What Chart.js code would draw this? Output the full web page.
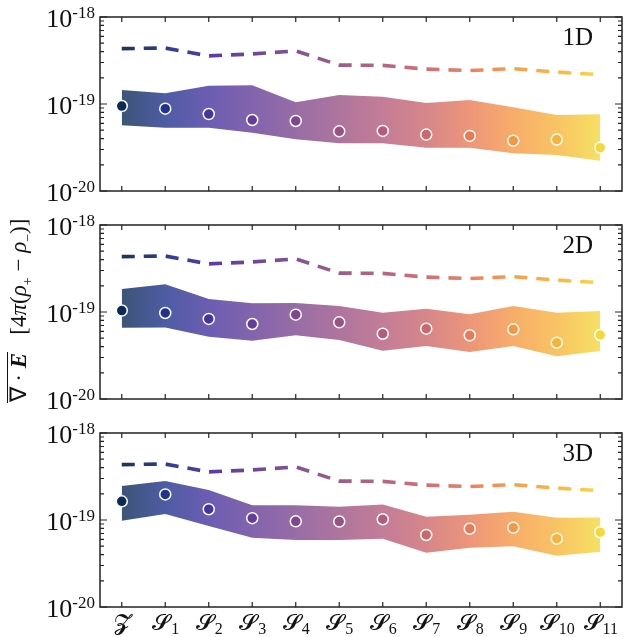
<!DOCTYPE html>
<html>
<head>
<meta charset="utf-8">
<script src="https://cdn.jsdelivr.net/npm/chart.js@4.4.1/dist/chart.umd.min.js"></script>
<style>
  html, body { margin: 0; padding: 0; background: #fff; }
  #wrap { position: relative; width: 630px; height: 637px; overflow: hidden; }
  #wrap canvas { position: absolute; left: 0; top: 0; }
  #ylab {
    position: absolute; left: -131px; top: 296px; width: 300px; height: 30px;
    line-height: 30px; text-align: center; white-space: nowrap;
    transform: rotate(-90deg);
    font-family: 'Liberation Serif', serif; font-size: 23px; color: #111;
  }
  #ylab .ov { border-top: 1.5px solid #111; line-height: 22px; display: inline-block; padding: 0 1px; }
  #ylab sub { font-size: 14px; }
</style>
</head>
<body>
<div id="wrap">
  <canvas id="p1" width="630" height="637"></canvas>
  <canvas id="p2" width="630" height="637"></canvas>
  <canvas id="p3" width="630" height="637"></canvas>
  <div id="ylab"><span class="ov">∇ · <b><i>E</i></b></span>&nbsp;&nbsp; [4<i>π</i>(<i>ρ</i><sub>+</sub> − <i>ρ</i><sub>−</sub>)]</div>
</div>
<script>
// categories and tick labels
const categories = ['Z', 'S1', 'S2', 'S3', 'S4', 'S5', 'S6', 'S7', 'S8', 'S9', 'S10', 'S11'];
const xLetters = ['𝓩', '𝓢', '𝓢', '𝓢', '𝓢', '𝓢', '𝓢', '𝓢', '𝓢', '𝓢', '𝓢', '𝓢'];
const xSubs = ['', '1', '2', '3', '4', '5', '6', '7', '8', '9', '10', '11'];
const yTicks = [1e-18, 1e-19, 1e-20];
const yTickExp = ['-18', '-19', '-20'];
const panelNames = ['1D', '2D', '3D'];

// dashed reference line (same in every panel)
const refLine = [4.33e-19, 4.4e-19, 3.57e-19, 3.76e-19, 4.07e-19, 2.8e-19, 2.78e-19, 2.52e-19, 2.42e-19, 2.55e-19, 2.33e-19, 2.17e-19];

// 1D
const mean1 = [9.48e-20, 8.83e-20, 7.67e-20, 6.55e-20, 6.38e-20, 4.85e-20, 4.9e-20, 4.45e-20, 4.3e-20, 3.79e-20, 3.9e-20, 3.15e-20];
const upper1 = [1.45e-19, 1.33e-19, 1.62e-19, 1.64e-19, 1.05e-19, 1.27e-19, 1.21e-19, 1.03e-19, 1.11e-19, 9.16e-20, 7.48e-20, 7.6e-20];
const lower1 = [5.69e-20, 5.35e-20, 5.35e-20, 4.68e-20, 3.93e-20, 3.53e-20, 3.53e-20, 3.15e-20, 3.15e-20, 2.71e-20, 2.6e-20, 2.23e-20];

// 2D
const mean2 = [1.04e-19, 9.75e-20, 8.32e-20, 7.28e-20, 9.31e-20, 7.6e-20, 5.63e-20, 6.43e-20, 5.4e-20, 6.32e-20, 4.44e-20, 5.44e-20];
const upper2 = [1.84e-19, 2.08e-19, 1.41e-19, 1.26e-19, 1.27e-19, 1.17e-19, 9.82e-20, 1.09e-19, 9.4e-20, 1.17e-19, 9.82e-20, 1.03e-19];
const lower2 = [6.6e-20, 6.65e-20, 5.2e-20, 4.68e-20, 5.4e-20, 4.76e-20, 3.59e-20, 4.07e-20, 3.47e-20, 4.07e-20, 3.1e-20, 3.56e-20];

// 3D
const mean3 = [1.64e-19, 1.97e-19, 1.33e-19, 1.05e-19, 9.66e-20, 9.6e-20, 1.02e-19, 6.73e-20, 7.94e-20, 8.17e-20, 6.1e-20, 7.23e-20];
const upper3 = [2.46e-19, 2.8e-19, 2.21e-19, 1.48e-19, 1.48e-19, 1.42e-19, 1.51e-19, 1.09e-19, 1.15e-19, 1.24e-19, 1.06e-19, 1.07e-19];
const lower3 = [9.82e-20, 1.17e-19, 8.53e-20, 6.27e-20, 5.89e-20, 5.89e-20, 6.1e-20, 4.2e-20, 4.8e-20, 5.0e-20, 3.89e-20, 4.33e-20];

// colours along the x axis
const palette = ['#0c2a55', '#22338e', '#47359f', '#643d98', '#7e488f', '#9a5285',
                 '#b45c7c', '#cc686d', '#e87b57', '#f59844', '#f7b43d', '#f4d93c'];

function hexA(hex, a) {
  const n = parseInt(hex.slice(1), 16);
  return 'rgba(' + (n >> 16) + ',' + ((n >> 8) & 255) + ',' + (n & 255) + ',' + a + ')';
}

// horizontal gradient between first and last category
function grad(chart, alpha) {
  const area = chart.chartArea;
  if (!area) return palette[0];
  const x = chart.scales.x;
  const x0 = x.getPixelForValue(0), x1 = x.getPixelForValue(categories.length - 1);
  const g = chart.ctx.createLinearGradient(x0, 0, x1, 0);
  palette.forEach((c, i) => g.addColorStop(i / (palette.length - 1), hexA(c, alpha)));
  return g;
}

const SERIF = "'Liberation Serif', 'DejaVu Serif', serif";
const INK = '#222';

// frame, inward ticks, tick labels, panel name
const framePlugin = {
  id: 'frame',
  afterDraw(chart, args, opts) {
    const ctx = chart.ctx;
    const { left, right, top, bottom } = chart.chartArea;
    const xs = chart.scales.x, ys = chart.scales.y;
    ctx.save();
    ctx.strokeStyle = INK;
    ctx.lineWidth = 1.5;
    ctx.strokeRect(left, top, right - left, bottom - top);

    ctx.lineWidth = 1.2;
    ctx.beginPath();
    // x ticks, top and bottom
    categories.forEach((c, i) => {
      const px = xs.getPixelForValue(i);
      ctx.moveTo(px, bottom); ctx.lineTo(px, bottom - 5);
      ctx.moveTo(px, top); ctx.lineTo(px, top + 5);
    });
    // y major ticks
    yTicks.forEach(v => {
      const py = ys.getPixelForValue(v);
      ctx.moveTo(left, py); ctx.lineTo(left + 7, py);
      ctx.moveTo(right, py); ctx.lineTo(right - 7, py);
    });
    // y minor ticks
    [1e-20, 1e-19].forEach(dec => {
      for (let m = 2; m <= 9; m++) {
        const py = ys.getPixelForValue(m * dec);
        ctx.moveTo(left, py); ctx.lineTo(left + 4, py);
        ctx.moveTo(right, py); ctx.lineTo(right - 4, py);
      }
    });
    ctx.stroke();

    // y tick labels 10^n
    ctx.fillStyle = '#111';
    ctx.textBaseline = 'alphabetic';
    yTicks.forEach((v, i) => {
      const py = ys.getPixelForValue(v);
      ctx.font = '17px ' + SERIF;
      const we = ctx.measureText(yTickExp[i]).width;
      ctx.textAlign = 'right';
      ctx.fillText(yTickExp[i], left - 5, py + 1);
      ctx.font = '26px ' + SERIF;
      ctx.fillText('10', left - 5 - we, py + 10);
    });

    // x tick labels only on the last panel
    if (opts.showX) {
      categories.forEach((c, i) => {
        const px = xs.getPixelForValue(i);
        ctx.font = '23px ' + SERIF;
        const wb = ctx.measureText(xLetters[i]).width;
        ctx.font = '16px ' + SERIF;
        const ws = ctx.measureText(xSubs[i]).width;
        const x0 = px - (wb + ws) / 2;
        ctx.textAlign = 'left';
        ctx.font = '23px ' + SERIF;
        ctx.fillText(xLetters[i], x0, bottom + 23);
        ctx.font = '16px ' + SERIF;
        ctx.fillText(xSubs[i], x0 + wb + 1, bottom + 27);
      });
    }

    // panel name
    ctx.font = '25px ' + SERIF;
    ctx.textAlign = 'right';
    ctx.fillText(opts.name, right - 29, top + 28);
    ctx.restore();
  }
};

const panelTops = [17, 225, 433];
const panelHeight = 174;

function makePanel(id, idx, mean, upper, lower) {
  const top = panelTops[idx];
  return new Chart(document.getElementById(id), {
    type: 'line',
    data: {
      labels: categories,
      datasets: [
        {
          label: 'mean',
          data: mean,
          order: 0,
          showLine: false,
          pointRadius: 5.5,
          pointBorderWidth: 1.5,
          pointBorderColor: '#ffffff',
          pointBackgroundColor: palette,
        },
        {
          label: 'reference',
          data: refLine,
          order: 1,
          borderColor: ctx => grad(ctx.chart, 0.95),
          borderWidth: 3.6,
          borderDash: [13, 9],
          pointRadius: 0,
          fill: false,
          tension: 0,
        },
        {
          label: 'lower',
          data: lower,
          order: 3,
          borderWidth: 0,
          pointRadius: 0,
          fill: false,
        },
        {
          label: 'upper',
          data: upper,
          order: 2,
          borderWidth: 0,
          pointRadius: 0,
          backgroundColor: ctx => grad(ctx.chart, 0.8),
          fill: 2,
        },
      ],
    },
    options: {
      responsive: false,
      animation: false,
      devicePixelRatio: 1,
      events: [],
      layout: { padding: { left: 100, right: 8, top: top, bottom: 637 - top - panelHeight } },
      scales: {
        x: { type: 'category', offset: true, display: false },
        y: { type: 'logarithmic', min: 1e-20, max: 1e-18, display: false },
      },
      plugins: {
        legend: { display: false },
        tooltip: { enabled: false },
        frame: { name: panelNames[idx], showX: idx === 2 },
      },
    },
    plugins: [framePlugin],
  });
}

makePanel('p1', 0, mean1, upper1, lower1);
makePanel('p2', 1, mean2, upper2, lower2);
makePanel('p3', 2, mean3, upper3, lower3);
</script>
</body>
</html>
